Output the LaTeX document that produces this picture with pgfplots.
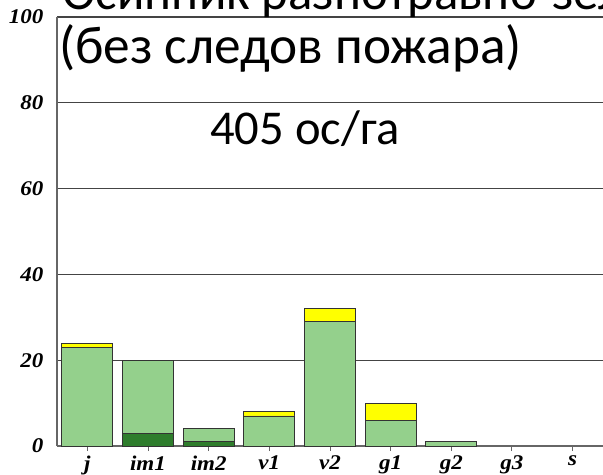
\documentclass[border=0pt]{standalone}
\usepackage{graphicx}
\usepackage{fontspec}
\setmainfont{Carlito}
\newfontfamily\tnr{Liberation Serif}
\usepackage{pgfplots}
\pgfplotsset{compat=1.18}
\definecolor{lgreen}{HTML}{94D08C}
\definecolor{dgreen}{HTML}{2E7D2C}
\definecolor{yel}{HTML}{FFFF00}
\definecolor{gridc}{HTML}{444444}
\definecolor{axc}{HTML}{666666}
\newcommand\tl[1]{\scalebox{1.1}[1]{#1}}
\begin{document}
\begin{tikzpicture}
\useasboundingbox (-57bp,-29bp) rectangle (546bp,446bp);
\begin{axis}[
  at={(0,0)}, anchor=south west,
  scale only axis, width=546bp, height=429bp,
  ybar stacked, bar width=0.84,
  xmin=-0.5, xmax=8.5, ymin=0, ymax=100,
  xtick={0,1,2,3,4,5,6,7,8},
  xticklabels={\tl{j},\tl{im1},\tl{im2},\tl{v1},\tl{v2},\tl{g1},\tl{g2},\tl{g3},\tl{s}},
  ytick={0,20,40,60,80,100},
  yticklabels={\tl{0},\tl{20},\tl{40},\tl{60},\tl{80},\tl{100}},
  ticklabel style={font=\tnr\fontsize{21}{21}\selectfont\bfseries\itshape},
  axis x line*=bottom, axis y line*=left,
  axis line style={axc, line width=1.2pt},
  tick align=outside,
  major tick length=5bp,
  xtick style={axc, line width=1pt},
  ytick style={draw=none},
  ymajorgrids, grid style={gridc, line width=1.1pt},
  xticklabel style={yshift=-1bp},
  yticklabel style={xshift=-5bp},
  every axis plot/.append style={draw=black!80, line width=0.8pt},
]
\addplot[fill=dgreen] coordinates {(0,0) (1,3) (2,1) (3,0) (4,0) (5,0) (6,0) (7,0) (8,0)};
\addplot[fill=lgreen] coordinates {(0,23) (1,17) (2,3) (3,7) (4,29) (5,6) (6,1) (7,0) (8,0)};
\addplot[fill=yel] coordinates {(0,1) (1,0) (2,0) (3,1) (4,3) (5,4) (6,0) (7,0) (8,0)};
\end{axis}
\node[anchor=base west, font=\fontsize{51}{51}\selectfont, inner sep=0pt] at (5bp,436.5bp) {Осинник разнотравно-зеленомошный};
\node[anchor=base west, font=\fontsize{53.5}{53.5}\selectfont, inner sep=0pt] at (2bp,382bp) {(без следов пожара)};
\node[anchor=base west, font=\fontsize{48.8}{48.8}\selectfont, inner sep=0pt] at (153bp,301bp) {405 ос/га};
\end{tikzpicture}
\end{document}
